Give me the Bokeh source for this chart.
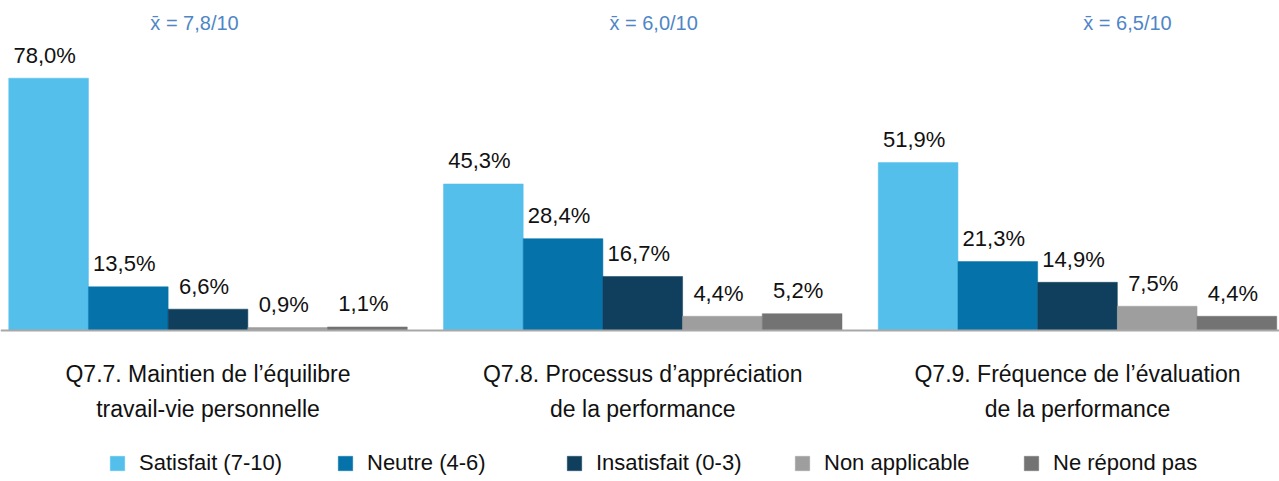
from bokeh.plotting import figure
from bokeh.models import Range1d, Span, Legend, LegendItem, ColumnDataSource
from bokeh.core.properties import value
from bokeh.embed import file_html
from bokeh.resources import INLINE

# ---- data ----
categories = [
    "Q7.7. Maintien de l’équilibre\ntravail-vie personnelle",
    "Q7.8. Processus d’appréciation\nde la performance",
    "Q7.9. Fréquence de l’évaluation\nde la performance",
]
series = ["Satisfait (7-10)", "Neutre (4-6)", "Insatisfait (0-3)", "Non applicable", "Ne répond pas"]
satisfait = [78.0, 45.3, 51.9]
neutre = [13.5, 28.4, 21.3]
insatisfait = [6.6, 16.7, 14.9]
non_applicable = [0.9, 4.4, 7.5]
ne_repond_pas = [1.1, 5.2, 4.4]
means = ["x̄ = 7,8/10", "x̄ = 6,0/10", "x̄ = 6,5/10"]

values = [satisfait, neutre, insatisfait, non_applicable, ne_repond_pas]

# ---- style ----
colors = ["#54BFEB", "#0573A9", "#103F5D", "#9E9E9E", "#737373"]
FONT_NAME = "Liberation Sans"
FONT = value(FONT_NAME)
W, H = 1279, 481
PX_PER_GROUP = 434.75
PX_PER_PCT = 3.235
BASE_Y = 330
GROUP0_X = 207.5
bar_w = 79.7 / PX_PER_GROUP
mean_shift = [-0.031, 0.025, 0.115]
legend_left = [108, 336, 565, 793, 1022]

x0 = -GROUP0_X / PX_PER_GROUP
p = figure(width=W, height=H, output_backend="svg", toolbar_location=None,
           x_range=Range1d(x0, x0 + W / PX_PER_GROUP),
           y_range=Range1d(-(H - BASE_Y) / PX_PER_PCT, BASE_Y / PX_PER_PCT),
           x_axis_type=None, y_axis_type=None, min_border=0)
p.grid.visible = False
p.outline_line_color = None
p.background_fill_color = "white"

gx = list(range(len(categories)))
renderers = []
for k, (name, vals, col) in enumerate(zip(series, values, colors)):
    xs = [g + (k - 2) * bar_w for g in gx]
    src = ColumnDataSource(dict(x=xs, top=vals,
                                lab=[f"{v:.1f}".replace(".", ",") + "%" for v in vals]))
    r = p.vbar(x="x", top="top", bottom=0, width=bar_w, source=src,
               fill_color=col, line_color=col, line_width=0.5)
    renderers.append(r)
    p.text(x="x", y="top", text="lab", source=src, text_align="center",
           text_baseline="alphabetic", x_offset=-4, y_offset=-23, text_font=FONT,
           text_font_size="22px", text_color="#111111")

p.add_layout(Span(location=0, dimension="width", line_color="#A8A8A8", line_width=2))

# category labels
csrc = ColumnDataSource(dict(x=gx, y=[0] * 3, t=categories))
p.text(x="x", y="y", text="t", source=csrc, text_align="center", text_baseline="middle",
       y_offset=61, text_font=FONT, text_font_size="23px", text_color="#111111",
       text_line_height=1.38)

# mean annotations
msrc = ColumnDataSource(dict(x=[g + s for g, s in zip(gx, mean_shift)],
                             y=[BASE_Y / PX_PER_PCT] * 3, t=means))
p.text(x="x", y="y", text="t", source=msrc, text_align="center", text_baseline="middle",
       y_offset=22, text_font=FONT, text_font_size="20px", text_color="#4F86C6")

# legend (one per item for placement)
for name, r, lx in zip(series, renderers, legend_left):
    lg = Legend(items=[LegendItem(label=name, renderers=[r])], location=(lx, 5),
                orientation="horizontal", padding=0, margin=0, spacing=0,
                glyph_width=18, glyph_height=18, label_standoff=13,
                label_text_font=FONT_NAME, label_text_font_size="22px",
                label_text_color="#111111", border_line_alpha=0,
                background_fill_alpha=0)
    p.add_layout(lg)

open("out.html", "w").write(file_html(p, INLINE))
